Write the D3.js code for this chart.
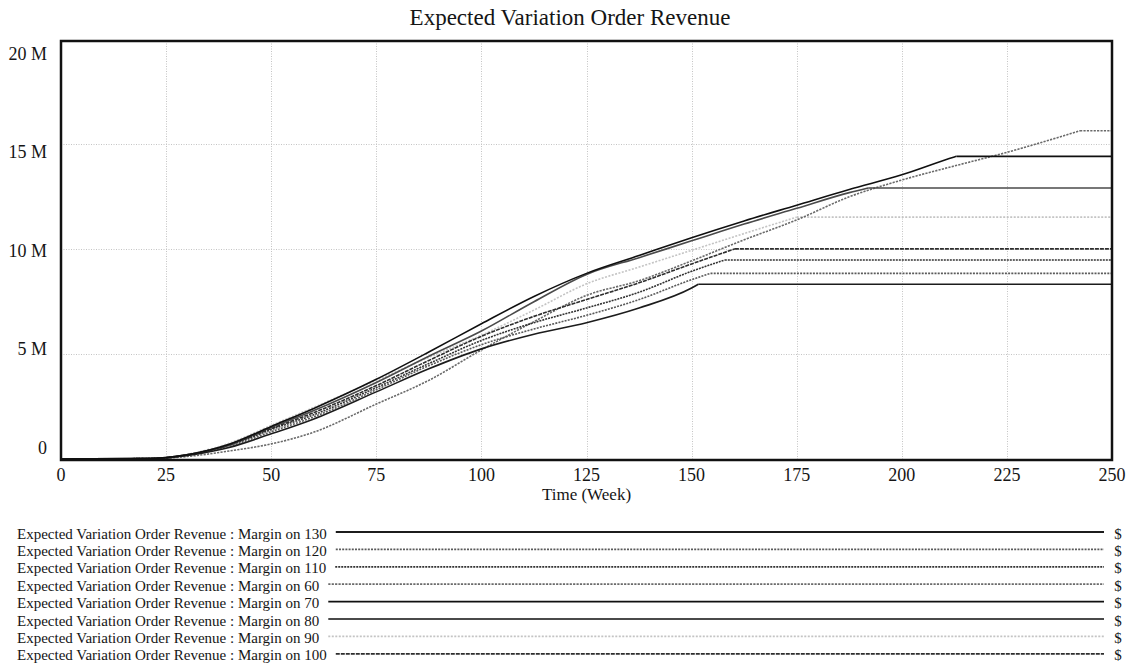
<!DOCTYPE html>
<html>
<head>
<meta charset="utf-8">
<script src="https://cdn.jsdelivr.net/npm/d3@7"></script>
<style>
  body { margin: 0; background: #fff; }
  svg { display: block; }
  text { font-family: "Liberation Serif", "Times New Roman", serif; fill: #151515; }
</style>
</head>
<body>
<svg id="chart" width="1130" height="666"></svg>
<script>
// Simulation output sampled at these weeks (values in millions of $)
const weeks = [0, 20, 25, 30, 40, 50, 60, 75, 87.5, 100, 112.5, 125, 137.5, 150, 162.5, 175, 187.5, 200, 212.5, 225, 237.5, 250];

const margin60  = [0, 0.01, 0.04, 0.12, 0.38, 0.72, 1.27, 2.62, 3.75, 5.2, 6.55, 7.8, 8.5, 9.45, 10.45, 11.4, 12.5, 13.3, 13.97, 14.62, 15.35, 15.65];
const margin70  = [0, 0.02, 0.07, 0.2, 0.7, 1.55, 2.4, 3.8, 5.1, 6.45, 7.75, 8.85, 9.7, 10.55, 11.35, 12.1, 12.85, 13.55, 14.4, 14.43, 14.43, 14.43];
const margin80  = [0, 0.02, 0.07, 0.2, 0.68, 1.5, 2.3, 3.65, 4.9, 6.1, 7.5, 8.8, 9.6, 10.4, 11.2, 11.95, 12.7, 12.92, 12.92, 12.92, 12.92, 12.92];
const margin90  = [0, 0.02, 0.07, 0.22, 0.75, 1.6, 2.45, 3.75, 4.85, 5.9, 7.1, 8.35, 9.15, 9.95, 10.75, 11.53, 11.53, 11.53, 11.53, 11.53, 11.53, 11.53];
const margin100 = [0, 0.02, 0.06, 0.2, 0.68, 1.45, 2.2, 3.5, 4.7, 5.85, 6.8, 7.6, 8.4, 9.3, 10.02, 10.02, 10.02, 10.02, 10.02, 10.02, 10.02, 10.02];
const margin110 = [0, 0.02, 0.06, 0.19, 0.65, 1.4, 2.1, 3.4, 4.55, 5.65, 6.5, 7.2, 7.95, 8.95, 9.49, 9.49, 9.49, 9.49, 9.49, 9.49, 9.49, 9.49];
const margin120 = [0, 0.02, 0.06, 0.18, 0.6, 1.3, 2.0, 3.3, 4.45, 5.45, 6.2, 6.85, 7.6, 8.55, 8.85, 8.85, 8.85, 8.85, 8.85, 8.85, 8.85, 8.85];
const margin130 = [0, 0.02, 0.05, 0.17, 0.55, 1.2, 1.9, 3.2, 4.3, 5.25, 5.95, 6.5, 7.2, 8.15, 8.33, 8.33, 8.33, 8.33, 8.33, 8.33, 8.33, 8.33];

// Week at which each run's revenue stops growing
const levelWeek = { 130: 151.6, 120: 154.5, 110: 157.9, 100: 160.3, 90: 175, 80: 192, 70: 213, 60: 242.4 };

// Legend order
const margins = [130, 120, 110, 60, 70, 80, 90, 100];
const seriesValues = { 60: margin60, 70: margin70, 80: margin80, 90: margin90, 100: margin100, 110: margin110, 120: margin120, 130: margin130 };

const xTicks = [0, 25, 50, 75, 100, 125, 150, 175, 200, 225, 250];
const yTicks = [0, 5, 10, 15, 20];
const yTickLabels = ["0", "5 M", "10 M", "15 M", "20 M"];

const titleText = "Expected Variation Order Revenue";
const xTitle = "Time (Week)";
const unitText = "$";

// Line appearance per run
const lineStyle = {
  130: { color: "#1c1c1c", dash: null },
  120: { color: "#5a5a5a", dash: "2,1.2" },
  110: { color: "#333333", dash: "2,1" },
  60:  { color: "#6a6a6a", dash: "2.2,1.2" },
  70:  { color: "#101010", dash: null },
  80:  { color: "#4a4a4a", dash: null },
  90:  { color: "#c4c4c4", dash: "2,1.5" },
  100: { color: "#2e2e2e", dash: "4,1" }
};

const svg = d3.select("#chart");
const plot = { left: 61, right: 1112, top: 41, bottom: 460 };

const x = d3.scaleLinear().domain([0, 250]).range([plot.left, plot.right]);
const y = d3.scaleLinear().domain([0, 20]).range([459, 39.5]);
// tick labels sit inside the value range, as the simulator lays them out
const yLabel = d3.scaleLinear().domain([0, 20]).range([454, 59.5]);

// Title
svg.append("text")
  .attr("x", 570).attr("y", 25)
  .attr("text-anchor", "middle")
  .style("font-size", "23px")
  .text(titleText);

// Grid
const grid = svg.append("g").attr("stroke", "#c4c4c4").attr("stroke-width", 1).attr("stroke-dasharray", "1,1.5");
grid.selectAll("line.v").data(xTicks.filter(t => t > 0 && t < 250)).join("line")
  .attr("class", "v")
  .attr("x1", d => Math.round(x(d)) + 0.5).attr("x2", d => Math.round(x(d)) + 0.5)
  .attr("y1", plot.top).attr("y2", plot.bottom);
grid.selectAll("line.h").data(yTicks.filter(t => t > 0 && t < 20)).join("line")
  .attr("class", "h")
  .attr("y1", d => Math.round(y(d)) + 0.5).attr("y2", d => Math.round(y(d)) + 0.5)
  .attr("x1", plot.left).attr("x2", plot.right);

// Series
const riseLine = d3.line().x(d => x(d[0])).y(d => y(d[1])).curve(d3.curveMonotoneX);
const flatLine = d3.line().x(d => x(d[0])).y(d => y(d[1]));

const series = svg.append("g").attr("fill", "none").attr("stroke-width", 1.6);
const drawOrder = [90, 60, 120, 110, 80, 100, 130, 70];
drawOrder.forEach(m => {
  const vals = seriesValues[m];
  const lw = levelWeek[m];
  const level = vals[vals.length - 1];
  const rise = weeks.map((w, i) => [w, vals[i]]).filter(d => d[0] < lw);
  rise.push([lw, level]);
  const flat = [[lw, level], [250, level]];
  const st = lineStyle[m];
  [riseLine(rise), flatLine(flat)].forEach(p => {
    series.append("path")
      .attr("d", p)
      .attr("stroke", st.color)
      .attr("stroke-dasharray", st.dash)
      .attr("stroke-linejoin", "round");
  });
});

// Frame
svg.append("rect")
  .attr("x", plot.left).attr("y", plot.top)
  .attr("width", plot.right - plot.left).attr("height", plot.bottom - plot.top)
  .attr("fill", "none").attr("stroke", "#111").attr("stroke-width", 2.5);

// X tick labels
svg.append("g").selectAll("text").data(xTicks).join("text")
  .attr("x", d => x(d)).attr("y", 481)
  .attr("text-anchor", "middle")
  .style("font-size", "18px")
  .text(d => d);

svg.append("text")
  .attr("x", x(125)).attr("y", 500)
  .attr("text-anchor", "middle")
  .style("font-size", "17px")
  .text(xTitle);

// Y tick labels
svg.append("g").selectAll("text").data(yTicks).join("text")
  .attr("x", 47).attr("y", d => yLabel(d))
  .attr("text-anchor", "end")
  .style("font-size", "18px")
  .text((d, i) => yTickLabels[i]);

// Legend
const legend = svg.append("g");
margins.forEach((m, i) => {
  const base = 538.5 + i * 17.4;
  const t = legend.append("text")
    .attr("x", 17).attr("y", base)
    .style("font-size", "15px")
    .text(titleText + " : Margin on " + m);
  const end = 17 + t.node().getComputedTextLength();
  const st = lineStyle[m];
  legend.append("line")
    .attr("x1", end + 9).attr("x2", 1104)
    .attr("y1", base - 6.5).attr("y2", base - 6.5)
    .attr("stroke", st.color)
    .attr("stroke-width", 1.8)
    .attr("stroke-dasharray", st.dash);
  legend.append("text")
    .attr("x", 1118).attr("y", base)
    .attr("text-anchor", "middle")
    .style("font-size", "15px")
    .text(unitText);
});
</script>
</body>
</html>
